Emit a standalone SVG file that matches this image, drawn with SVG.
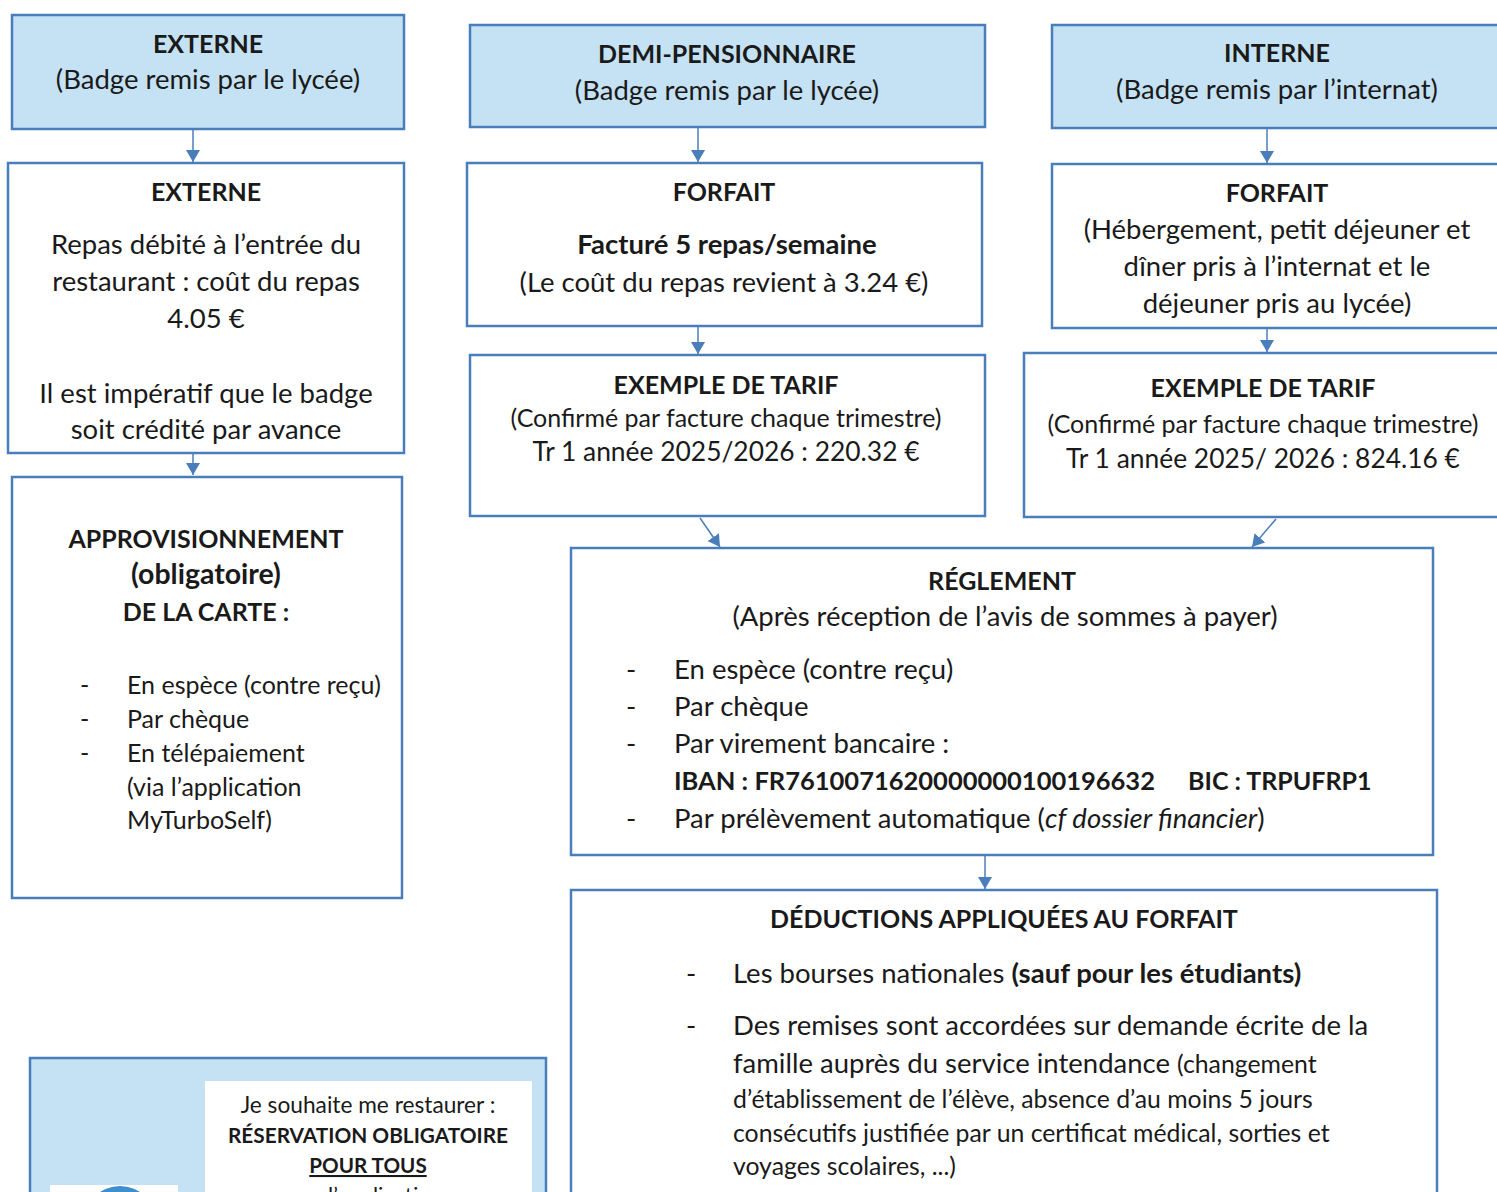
<svg xmlns="http://www.w3.org/2000/svg" width="1497" height="1192" viewBox="0 0 1497 1192">
<defs>
<marker id="ah" viewBox="0 0 12 14" refX="12" refY="7" markerWidth="12" markerHeight="14" markerUnits="userSpaceOnUse" orient="auto">
<path d="M0,0 L12,7 L0,14 Z" fill="#4a7ebb"/>
</marker>
<style>
.box{fill:#ffffff;stroke:#4a7ebb;stroke-width:2.5}
.blue{fill:#c5e2f4;stroke:#4a7ebb;stroke-width:2.5}
text{font-family:Lato,"Noto Sans",sans-serif;fill:#1a1a1a}
.c{text-anchor:middle}
.b{font-weight:bold}
.h{font-size:25px;font-weight:bold}
.t{font-size:27.5px}
.n{font-size:26.4px}
.s{font-size:25px}
.m{font-size:24.8px}
.conn{stroke:#4a7ebb;stroke-width:1.5;fill:none;marker-end:url(#ah)}
</style>
</defs>
<rect width="1497" height="1192" fill="#ffffff"/>

<g id="connectors">
<line class="conn" x1="193" y1="130" x2="193" y2="162"/>
<line class="conn" x1="193" y1="454" x2="193" y2="475"/>
<line class="conn" x1="698" y1="128" x2="698" y2="162"/>
<line class="conn" x1="698" y1="327" x2="698" y2="354"/>
<line class="conn" x1="1267" y1="129" x2="1267" y2="163"/>
<line class="conn" x1="1267" y1="329" x2="1267" y2="352"/>
<line class="conn" x1="700" y1="518" x2="720" y2="547"/>
<line class="conn" x1="1276" y1="519" x2="1252" y2="547"/>
<line class="conn" x1="985" y1="856" x2="985" y2="889"/>
</g>

<g id="externe-badge">
<rect class="blue" x="12" y="15" width="392" height="114"/>
<text class="c h" x="208" y="53">EXTERNE</text>
<text class="c t" x="208" y="89">(Badge remis par le lycée)</text>
</g>

<g id="demi-badge">
<rect class="blue" x="470" y="25" width="515" height="102"/>
<text class="c h" x="727" y="63">DEMI-PENSIONNAIRE</text>
<text class="c t" x="727" y="100">(Badge remis par le lycée)</text>
</g>

<g id="interne-badge">
<rect class="blue" x="1052" y="25" width="460" height="103"/>
<text class="c h" x="1277" y="62">INTERNE</text>
<text class="c t" x="1277" y="99">(Badge remis par l’internat)</text>
</g>

<g id="externe-repas">
<rect class="box" x="8" y="163" width="396" height="290"/>
<text class="c h" x="206" y="201">EXTERNE</text>
<text class="c t" x="206" y="254">Repas débité à l’entrée du</text>
<text class="c t" x="206" y="291">restaurant : coût du repas</text>
<text class="c t" x="206" y="328">4.05 €</text>
<text class="c t" x="206" y="403">Il est impératif que le badge</text>
<text class="c t" x="206" y="439">soit crédité par avance</text>
</g>

<g id="forfait-dp">
<rect class="box" x="467" y="163" width="515" height="163"/>
<text class="c h" x="724" y="201">FORFAIT</text>
<text class="c b t" x="727" y="254">Facturé 5 repas/semaine</text>
<text class="c t" x="724" y="292">(Le coût du repas revient à 3.24 €)</text>
</g>

<g id="forfait-interne">
<rect class="box" x="1052" y="164" width="460" height="164"/>
<text class="c h" x="1277" y="202">FORFAIT</text>
<text class="c t" x="1277" y="239">(Hébergement, petit déjeuner et</text>
<text class="c t" x="1277" y="276">dîner pris à l’internat et le</text>
<text class="c t" x="1277" y="313">déjeuner pris au lycée)</text>
</g>

<g id="tarif-dp">
<rect class="box" x="470" y="355" width="515" height="161"/>
<text class="c h" x="726" y="394">EXEMPLE DE TARIF</text>
<text class="c s" x="726" y="427">(Confirmé par facture chaque trimestre)</text>
<text class="c n" x="726" y="461">Tr 1 année 2025/2026 : 220.32 €</text>
</g>

<g id="tarif-interne">
<rect class="box" x="1024" y="353" width="488" height="164"/>
<text class="c h" x="1263" y="397">EXEMPLE DE TARIF</text>
<text class="c s" x="1263" y="433">(Confirmé par facture chaque trimestre)</text>
<text class="c n" x="1263" y="468">Tr 1 année 2025/ 2026 : 824.16 €</text>
</g>

<g id="approvisionnement">
<rect class="box" x="12" y="477" width="390" height="421"/>
<text class="c h" x="206" y="548">APPROVISIONNEMENT</text>
<text class="c b" x="206" y="584" font-size="28.5">(obligatoire)</text>
<text class="c h" x="206" y="621">DE LA CARTE :</text>
<text class="s" x="80" y="694">-</text>
<text class="s" x="127" y="694">En espèce (contre reçu)</text>
<text class="s" x="80" y="728">-</text>
<text class="s" x="127" y="728">Par chèque</text>
<text class="s" x="80" y="762">-</text>
<text class="s" x="127" y="762">En télépaiement</text>
<text class="s" x="127" y="796">(via l’application</text>
<text class="s" x="127" y="829">MyTurboSelf)</text>
</g>

<g id="reglement">
<rect class="box" x="571" y="548" width="862" height="307"/>
<text class="c h" x="1002" y="590">RÉGLEMENT</text>
<text class="c t" x="1005" y="626">(Après réception de l’avis de sommes à payer)</text>
<text class="t" x="626" y="679">-</text>
<text class="t" x="674" y="679">En espèce (contre reçu)</text>
<text class="t" x="626" y="716">-</text>
<text class="t" x="674" y="716">Par chèque</text>
<text class="t" x="626" y="753">-</text>
<text class="t" x="674" y="753">Par virement bancaire :</text>
<text class="b" x="674" y="790" font-size="25.5">IBAN : FR7610071620000000100196632</text>
<text class="h" x="1188" y="790">BIC : TRPUFRP1</text>
<text class="t" x="626" y="828">-</text>
<text class="t" x="674" y="828">Par prélèvement automatique (<tspan font-style="italic">cf dossier financier</tspan>)</text>
</g>

<g id="deductions">
<rect class="box" x="571" y="890" width="866" height="320"/>
<text class="c h" x="1004" y="928">DÉDUCTIONS APPLIQUÉES AU FORFAIT</text>
<text class="t" x="686" y="983">-</text>
<text class="t" x="733" y="983">Les bourses nationales <tspan font-weight="bold">(sauf pour les étudiants)</tspan></text>
<text class="t" x="686" y="1035">-</text>
<text class="t" x="733" y="1035">Des remises sont accordées sur demande écrite de la</text>
<text class="t" x="733" y="1073">famille auprès du service intendance <tspan class="m">(changement</tspan></text>
<text class="m" x="733" y="1108">d’établissement de l’élève, absence d’au moins 5 jours</text>
<text class="m" x="733" y="1142">consécutifs justifiée par un certificat médical, sorties et</text>
<text class="m" x="733" y="1175">voyages scolaires, ...)</text>
</g>

<g id="reservation">
<rect class="blue" x="30" y="1058" width="516" height="160"/>
<rect x="205" y="1081" width="327" height="130" fill="#ffffff"/>
<rect x="50" y="1185" width="128" height="30" fill="#ffffff"/>
<circle cx="120" cy="1222" r="36" fill="#3f8fd0"/>
<text class="c" x="368" y="1113" font-size="22.7">Je souhaite me restaurer :</text>
<text class="c b" x="368" y="1143" font-size="20.8">RÉSERVATION OBLIGATOIRE</text>
<text class="c b" x="368" y="1173" font-size="20.6" text-decoration="underline">POUR TOUS</text>
<text class="c" x="368" y="1203" font-size="22">sur l’application</text>
</g>
</svg>
